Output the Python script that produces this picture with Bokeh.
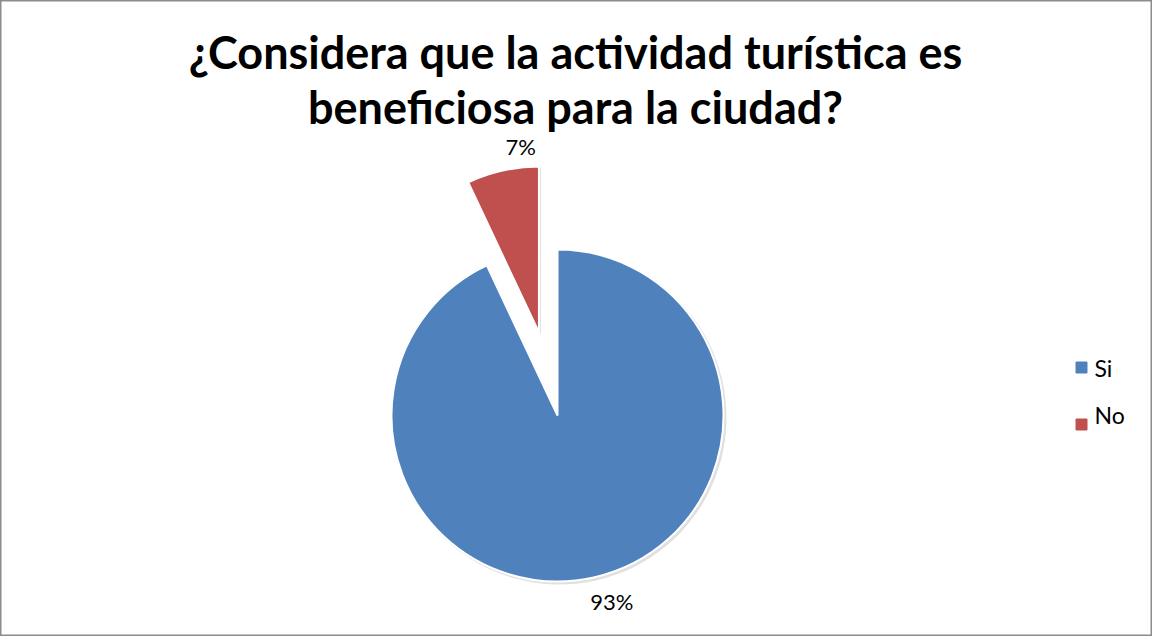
import math
from bokeh.plotting import figure
from bokeh.models import Range1d
from bokeh.core.properties import value
from bokeh.embed import file_html
from bokeh.resources import INLINE

# ---- data ----
categories = ["Si", "No"]
values = [93, 7]
labels = ["93%", "7%"]
colors = ["#4F81BD", "#C0504D"]
title_lines = ["¿Considera que la actividad turística es", "beneficiosa para la ciudad?"]

# ---- layout (pixel-based coordinates) ----
W, H = 1152, 636


def sx(x):
    return x - 8


def sy(y):
    return H - (y - 8)


CX, CY, R = sx(565), sy(423), 166
EXPLODE = [0, 85]
FONT = "Lato"

p = figure(width=W, height=H, output_backend="svg", toolbar_location=None,
           x_range=Range1d(0, W), y_range=Range1d(0, H), min_border=0)
p.axis.visible = False
p.grid.visible = False
p.outline_line_color = "#8c8c8c"
p.outline_line_width = 2
p.background_fill_color = "white"
p.border_fill_color = "white"

total = float(sum(values))
cum = 0.0
wedges = []
for i, v in enumerate(values):
    a0 = math.pi / 2 - 2 * math.pi * cum / total
    cum += v
    a1 = math.pi / 2 - 2 * math.pi * cum / total
    mid = (a0 + a1) / 2
    ox = CX + EXPLODE[i] * math.cos(mid)
    oy = CY + EXPLODE[i] * math.sin(mid)
    wedges.append((ox, oy, a0, a1, mid))

# shadows
for i, (ox, oy, a0, a1, mid) in enumerate(wedges):
    p.wedge(x=ox + 2, y=oy - 2, radius=R + 1, start_angle=a0, end_angle=a1,
            direction="clock", fill_color="black", fill_alpha=0.12, line_color=None)

# slices
for i, (ox, oy, a0, a1, mid) in enumerate(wedges):
    p.wedge(x=ox, y=oy, radius=R, start_angle=a0, end_angle=a1,
            direction="clock", fill_color=colors[i], line_color="white", line_width=2)

# data labels
for i, (ox, oy, a0, a1, mid) in enumerate(wedges):
    s = 1 if math.sin(mid) > 0 else -1
    lx = ox + R * math.cos(mid) + 18
    ly = oy + R * math.sin(mid) + 24 * s
    p.text(x=[lx], y=[ly], text=[labels[i]], text_font=value(FONT),
           text_font_size="22px", text_color="black",
           text_align="center", text_baseline="middle")

# title
p.text(x=[sx(583), sx(583)], y=[sy(59), sy(114)], text=title_lines,
       text_font=value(FONT), text_font_style="bold", text_font_size="45px",
       text_color="black", text_align="center", text_baseline="alphabetic")

# legend
leg_sq_y = [sy(375), sy(432)]
leg_tx_y = [sy(375), sy(422)]
for i, c in enumerate(categories):
    p.scatter(x=[sx(1089)], y=[leg_sq_y[i]], marker="square", size=11,
              fill_color=colors[i], line_color=colors[i])
    p.text(x=[sx(1102)], y=[leg_tx_y[i]], text=[c], text_font=value(FONT),
           text_font_size="23px", text_color="black",
           text_align="left", text_baseline="middle")

open("out.html", "w").write(file_html(p, INLINE))
